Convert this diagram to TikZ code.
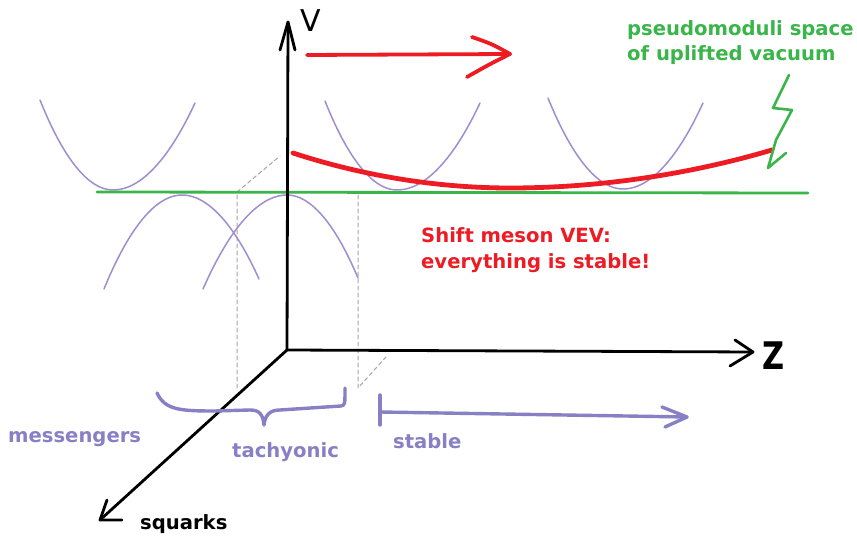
\documentclass[tikz,border=0pt]{standalone}
\usepackage{fontspec}
\setmainfont{DejaVu Sans}
\definecolor{lav}{RGB}{160,142,206}
\definecolor{lavtext}{RGB}{135,128,196}
\definecolor{rd}{RGB}{237,28,36}
\definecolor{gr}{RGB}{57,181,74}
\definecolor{gy}{RGB}{165,165,165}
\begin{document}
\begin{tikzpicture}[x=1pt,y=-1pt,line cap=round,line join=round,
  lbl/.style={inner sep=0pt,font=\bfseries\fontsize{19.6}{25}\selectfont,align=left},
  axis/.style={black,line width=2.8pt},
  pot/.style={lav,line width=1.5pt},
  guide/.style={gy,line width=1pt,dash pattern=on 4pt off 3pt},
  redline/.style={rd,line width=4.8pt},
  lavline/.style={lavtext,line width=3.4pt}]
\useasboundingbox (0,0) rectangle (857,537);
\fill[white] (0,0) rectangle (857,537);

% guides
\draw[guide] (237,388) -- (237,192) -- (280,156);
\draw[guide] (358,195) -- (358,388) -- (386,357);

% potentials
\draw[pot] (40,100) parabola bend (113,190) (195,103);
\draw[pot] (325,101) parabola bend (397,190) (480,103);
\draw[pot] (548,98) parabola bend (623,189) (703,103);
\draw[pot] (104,289) parabola bend (182,195) (259,279);
\draw[pot] (203,289) parabola bend (287,195) (358,278);

% green line
\draw[gr,line width=2.8pt] (97,192) -- (808,193);

% axes
\coordinate (O) at (287,350);
\coordinate (Vt) at (288,22);
\coordinate (Zt) at (753,352);
\coordinate (St) at (100,520);
\draw[axis] (O) -- (Vt);
\draw[axis] ([shift={(-8,28)}]Vt) -- (Vt) -- ([shift={(7,28)}]Vt);
\draw[axis] (O) -- (Zt);
\draw[axis] ([shift={(-18,-12)}]Zt) -- (Zt) -- ([shift={(-23,14)}]Zt);
\draw[axis] (O) -- (St);
\draw[axis] ([shift={(7,-20)}]St) -- (St) -- ([shift={(22,0)}]St);

% red
\draw[redline] (293,153) parabola bend (510,188) (772,150);
\draw[rd,line width=3.8pt] (307,55) -- (510,54);
\draw[rd,line width=3.8pt] (472,37) .. controls (492,44) .. (510,54) .. controls (490,64) .. (467,77);

% green squiggle
\draw[gr,line width=2.6pt] (789,75) -- (773,108) -- (792,110) -- (776,140) -- (768,168) -- (786,153);

% brace
\draw[lavline] (157,393) .. controls (165,410) and (180,411) .. (215,411) -- (250,410)
  .. controls (260,410) and (263,415) .. (264,425)
  .. controls (265,415) and (270,410) .. (280,410) -- (341,406)
  .. controls (345,405) .. (345,388);

% stable arrow
\draw[lavline] (380,395) -- (380,425);
\draw[lavline] (380,412) -- (687,417);
\draw[lavline] (662,407) -- (687,417) -- (665,427);

% labels
\node[inner sep=0pt,anchor=base west,font=\fontsize{30}{30}\selectfont] (vlab) at (300,32) {V};
\node[inner sep=0pt,anchor=base west,font=\bfseries\fontsize{38}{38}\selectfont] (zlab) at (762,370) {\scalebox{0.8}[1]{Z}};
\node[lbl,anchor=base west] (sqlab) at (140,529) {squarks};
\node[lbl,anchor=north west,text=gr] (pm) at (627,20) {pseudomoduli space\\of uplifted vacuum};
\node[lbl,anchor=north west,text=rd,font=\bfseries\fontsize{19.6}{26}\selectfont] (shift) at (421,227) {Shift meson VEV:\\everything is stable!};
\node[lbl,anchor=base west,text=lavtext] (mess) at (8,442) {messengers};
\node[lbl,anchor=base west,text=lavtext] (tach) at (232,457) {tachyonic};
\node[lbl,anchor=base west,text=lavtext] (stab) at (393,448) {stable};
\end{tikzpicture}
\end{document}
